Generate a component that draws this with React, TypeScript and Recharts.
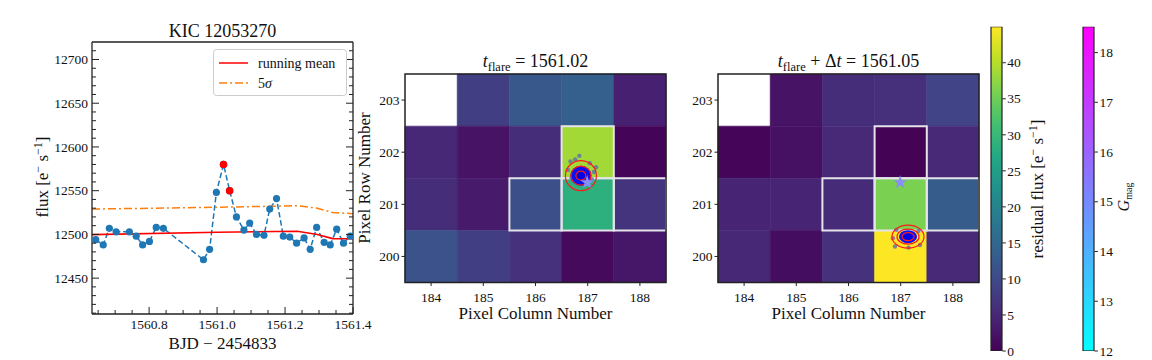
import React from "react";
import {
  ComposedChart,
  Line,
  Bar,
  XAxis,
  YAxis,
  ScatterChart,
  Scatter,
  ReferenceArea,
  Symbols,
} from "recharts";

const FONT = '"Liberation Serif", "DejaVu Serif", serif';
const INK = "#222222";
const TXT = "#111111";
const LC_BLUE = "#1f77b4";

// ---- light curve (BJD - 2454833, flux in e-/s) ----
const times = [
  1560.643, 1560.665, 1560.683, 1560.703, 1560.742, 1560.762, 1560.781, 1560.801, 1560.821, 1560.842,
  1560.96, 1560.978, 1560.998, 1561.019, 1561.037, 1561.057, 1561.079, 1561.096, 1561.116, 1561.138,
  1561.155, 1561.175, 1561.195, 1561.214, 1561.234, 1561.256, 1561.274, 1561.293, 1561.315, 1561.333,
  1561.352, 1561.372, 1561.392,
];
const flux = [
  12494, 12488, 12507, 12503, 12503, 12498, 12488, 12492, 12508, 12507,
  12471, 12483, 12548, 12580, 12550, 12520, 12505, 12513, 12500, 12499,
  12529, 12541, 12498, 12497, 12490, 12496, 12483, 12508, 12491, 12488,
  12506, 12490, 12498,
];
const flareTimes = [1561.019, 1561.037];
const flareFlux = [12580, 12550];
const meanTimes = [1560.632, 1561.0, 1561.236, 1561.295, 1561.34, 1561.4];
const meanFlux = [12499.8, 12502.5, 12503.6, 12500, 12495.2, 12495];
const sigmaFlux = [12529, 12531, 12532.8, 12530, 12525, 12523.7];

const lcXMajor = [1560.8, 1561.0, 1561.2, 1561.4];
const lcXMinor = [1560.65, 1560.7, 1560.75, 1560.85, 1560.9, 1560.95, 1561.05, 1561.1, 1561.15, 1561.25, 1561.3, 1561.35];
const lcYMajor = [12450, 12500, 12550, 12600, 12650, 12700];
const lcYMinor = [
  12410, 12420, 12430, 12440, 12460, 12470, 12480, 12490, 12510, 12520, 12530, 12540, 12560,
  12570, 12580, 12590, 12610, 12620, 12630, 12640, 12660, 12670, 12680, 12690, 12710,
];

// ---- pixel panels (residual flux, e-/s) ----
const pixelCols = [184, 185, 186, 187, 188];
const pixelRows = [203, 202, 201, 200];
const fluxAtFlare = [
  [null, 8.1, 12.2, 13.5, 4],
  [5, 2.3, 5.8, 38.7, 0.5],
  [5.8, 3.2, 10.8, 28.4, 6.8],
  [11.3, 8.1, 6.3, 1.1, 2.7],
];
const fluxAfterFlare = [
  [null, 2.3, 5.8, 6, 9],
  [0.7, 2, 5.2, 0.2, 5.2],
  [4.5, 4.5, 5.5, 36, 13],
  [5, 1.6, 6.3, 45, 5.2],
];
const apertureCols = [187, 186, 187, 188];
const apertureRows = [202, 201, 201, 201];
const starPos = [{ x: 186.99, y: 201.42 }];
const centroidFlare = [{ x: 186.87, y: 201.55 }];
const centroidAfter = [{ x: 187.14, y: 200.38 }];
const specklesFlare = [
  { x: 186.84, y: 201.93 }, { x: 187.16, y: 201.71 }, { x: 186.67, y: 201.82 },
  { x: 186.76, y: 201.86 }, { x: 187.04, y: 201.79 }, { x: 186.69, y: 201.5 },
  { x: 187.08, y: 201.48 }, { x: 186.62, y: 201.66 }, { x: 187.12, y: 201.62 },
];
const specklesAfter = [
  { x: 186.89, y: 200.19 }, { x: 187.37, y: 200.22 }, { x: 186.92, y: 200.51 },
  { x: 187.34, y: 200.49 }, { x: 187.15, y: 200.17 }, { x: 186.85, y: 200.35 },
];

const fluxMax = 45;
const fluxCbTicks = [0, 5, 10, 15, 20, 25, 30, 35, 40];
const gmagDomain = [12, 18.52];
const gmagTicks = [12, 13, 14, 15, 16, 17, 18];

const VIRIDIS = ["#440154", "#482475", "#414487", "#355f8d", "#2a788e", "#21918c", "#22a884", "#44bf70", "#7ad151", "#bddf26", "#fde725"];
const COOL = ["#00ffff", "#ff00ff"];

function hexToRgb(h: string) {
  const n = parseInt(h.slice(1), 16);
  return [(n >> 16) & 255, (n >> 8) & 255, n & 255];
}
function colorAt(stops: string[], t: number) {
  const c = Math.max(0, Math.min(1, t)) * (stops.length - 1);
  const i = Math.min(stops.length - 2, Math.floor(c));
  const f = c - i;
  const a = hexToRgb(stops[i]);
  const b = hexToRgb(stops[i + 1]);
  const m = a.map((v, k) => Math.round(v + (b[k] - v) * f));
  return `rgb(${m[0]},${m[1]},${m[2]})`;
}

const isMajor = (v: number, majors: number[]) => majors.some((m) => Math.abs(m - v) < 1e-6);

// inward ticks for the light curve box
function LcBottomTick({ x, y, payload }: any) {
  const major = isMajor(payload.value, lcXMajor);
  return (
    <g>
      <line x1={x} y1={y} x2={x} y2={y - (major ? 7 : 4)} stroke={INK} strokeWidth={1} />
      {major && (
        <text x={x} y={y + 14.5} textAnchor="middle" fontSize={13.5} fill={TXT}>
          {payload.value.toFixed(1)}
        </text>
      )}
    </g>
  );
}
function LcTopTick({ x, y, payload }: any) {
  const major = isMajor(payload.value, lcXMajor);
  return <line x1={x} y1={y} x2={x} y2={y + (major ? 7 : 4)} stroke={INK} strokeWidth={1} />;
}
function LcLeftTick({ x, y, payload }: any) {
  const major = isMajor(payload.value, lcYMajor);
  return (
    <g>
      <line x1={x} y1={y} x2={x + (major ? 7 : 4)} y2={y} stroke={INK} strokeWidth={1} />
      {major && (
        <text x={x - 4} y={y + 4.7} textAnchor="end" fontSize={13.5} fill={TXT}>
          {payload.value}
        </text>
      )}
    </g>
  );
}
function LcRightTick({ x, y, payload }: any) {
  const major = isMajor(payload.value, lcYMajor);
  return <line x1={x} y1={y} x2={x - (major ? 7 : 4)} y2={y} stroke={INK} strokeWidth={1} />;
}

// outward ticks for pixel panels and colorbars
function PixBottomTick({ x, y, payload }: any) {
  return (
    <g>
      <line x1={x} y1={y} x2={x} y2={y + 3.5} stroke={INK} strokeWidth={1} />
      <text x={x} y={y + 19} textAnchor="middle" fontSize={13.5} fill={TXT}>
        {payload.value}
      </text>
    </g>
  );
}
function PixLeftTick({ x, y, payload }: any) {
  return (
    <g>
      <line x1={x} y1={y} x2={x - 3.5} y2={y} stroke={INK} strokeWidth={1} />
      <text x={x - 5.5} y={y + 4.7} textAnchor="end" fontSize={13.5} fill={TXT}>
        {payload.value}
      </text>
    </g>
  );
}
function CbTick({ x, y, payload }: any) {
  return (
    <g>
      <line x1={x} y1={y} x2={x + 3.5} y2={y} stroke={INK} strokeWidth={1} />
      <text x={x + 5} y={y + 4.7} textAnchor="start" fontSize={13.5} fill={TXT}>
        {payload.value}
      </text>
    </g>
  );
}

function LightCurve() {
  const lcData = times.map((t, i) => ({ t, flux: flux[i] }));
  const flareData = flareTimes.map((t, i) => ({ t, flux: flareFlux[i] }));
  const envData = meanTimes.map((t, i) => ({ t, mean: meanFlux[i], sigma: sigmaFlux[i] }));
  const xDomain = [1560.632, 1561.4];
  const yDomain = [12409, 12720];
  const xTicks = [...lcXMajor, ...lcXMinor];
  const yTicks = [...lcYMajor, ...lcYMinor];
  const spine = { stroke: INK, strokeWidth: 1.3 };
  return (
    <div style={{ position: "absolute", left: 0, top: 0 }}>
      <ComposedChart width={400} height={360} margin={{ top: 41, right: 46, bottom: 45, left: 91 }}>
        <XAxis xAxisId="top" orientation="top" type="number" domain={xDomain} ticks={xTicks} interval={0}
          height={1} allowDataOverflow tickLine={false} tickSize={0} tickMargin={0} tick={<LcTopTick />}
          axisLine={spine} />
        <XAxis dataKey="t" type="number" domain={xDomain} ticks={xTicks} interval={0} height={1}
          allowDataOverflow tickLine={false} tickSize={0} tickMargin={0} tick={<LcBottomTick />}
          axisLine={spine} />
        <YAxis type="number" domain={yDomain} ticks={yTicks} interval={0} width={1} allowDataOverflow
          tickLine={false} tickSize={0} tickMargin={0} tick={<LcLeftTick />} axisLine={spine} />
        <YAxis yAxisId="right" orientation="right" type="number" domain={yDomain} ticks={yTicks} interval={0}
          width={1} allowDataOverflow tickLine={false} tickSize={0} tickMargin={0} tick={<LcRightTick />}
          axisLine={spine} />
        <Line data={lcData} dataKey="flux" type="linear" stroke={LC_BLUE} strokeWidth={1.5}
          strokeDasharray="5.5 2.8" dot={{ r: 3.6, fill: LC_BLUE, stroke: "none" }} isAnimationActive={false} />
        <Line data={envData} dataKey="mean" type="linear" stroke="#ff0000" strokeWidth={1.6} dot={false}
          isAnimationActive={false} />
        <Line data={envData} dataKey="sigma" type="linear" stroke="#ff7f0e" strokeWidth={1.5}
          strokeDasharray="8 3 2 3" dot={false} isAnimationActive={false} />
        <Line data={flareData} dataKey="flux" type="linear" stroke="none" strokeWidth={0}
          dot={{ r: 3.8, fill: "#ff0000", stroke: "none" }} isAnimationActive={false} />
      </ComposedChart>
    </div>
  );
}

function CentroidShape({ cx, cy, rings, core }: any) {
  return (
    <g>
      <ellipse cx={cx} cy={cy} rx={core[0]} ry={core[1]} fill="#0a10f2" />
      <ellipse cx={cx} cy={cy} rx={core[0] * 0.55} ry={core[1] * 0.55} fill="#0000e0" />
      {rings.map((r: number[], i: number) => (
        <ellipse key={i} cx={cx} cy={cy} rx={r[0]} ry={r[1]} fill="none" stroke="#ff1a1a" strokeWidth={1.2} />
      ))}
    </g>
  );
}

function PixelPanel({ boxLeft, values, centroid, speckles, rings, core }: any) {
  return (
    <div style={{ position: "absolute", left: boxLeft - 50, top: 0 }}>
      <ScatterChart width={321} height={360} margin={{ top: 74, right: 10, bottom: 76.5, left: 49 }}>
        <XAxis dataKey="x" type="number" domain={[183.5, 188.5]} ticks={pixelCols} interval={0} height={1}
          allowDataOverflow axisLine={false} tickLine={false} tickSize={0} tickMargin={0} tick={<PixBottomTick />} />
        <YAxis dataKey="y" type="number" domain={[199.5, 203.5]} ticks={pixelRows} interval={0} width={1}
          allowDataOverflow axisLine={false} tickLine={false} tickSize={0} tickMargin={0} tick={<PixLeftTick />} />
        {pixelRows.map((row, ri) =>
          pixelCols.map((col, ci) => {
            const v = values[ri][ci];
            if (v == null) return null;
            const c = colorAt(VIRIDIS, v / fluxMax);
            return (
              <ReferenceArea key={`c${row}-${col}`} x1={col - 0.5} x2={col + 0.5} y1={row - 0.5} y2={row + 0.5}
                fill={c} fillOpacity={1} stroke={c} strokeWidth={0.6} ifOverflow="visible" />
            );
          })
        )}
        {apertureCols.map((col, i) => (
          <ReferenceArea key={`a${i}`} x1={col - 0.5} x2={col + 0.5} y1={apertureRows[i] - 0.5}
            y2={apertureRows[i] + 0.5} fill="none" stroke="#e4e4ea" strokeWidth={2} ifOverflow="visible" />
        ))}
        <ReferenceArea x1={183.5} x2={188.5} y1={199.5} y2={203.5} fill="none" stroke={INK} strokeWidth={1.5}
          ifOverflow="visible" />
        <Scatter data={speckles} isAnimationActive={false}
          shape={(p: any) => <circle cx={p.cx} cy={p.cy} r={2.2} fill="#5a6fb0" fillOpacity={0.8} />} />
        <Scatter data={centroid} isAnimationActive={false}
          shape={(p: any) => <CentroidShape cx={p.cx} cy={p.cy} rings={rings} core={core} />} />
        <Scatter data={starPos} isAnimationActive={false}
          shape={(p: any) => <Symbols type="star" size={60} cx={p.cx} cy={p.cy} fill="#8a8cf8" />} />
      </ScatterChart>
    </div>
  );
}

function GradientRect({ x, y, width, height, id, stops }: any) {
  return (
    <g>
      <defs>
        <linearGradient id={id} x1="0" y1="1" x2="0" y2="0">
          {stops.map((s: string, i: number) => (
            <stop key={i} offset={i / (stops.length - 1)} stopColor={s} />
          ))}
        </linearGradient>
      </defs>
      <rect x={x} y={y} width={width} height={height} fill={`url(#${id})`} stroke={INK} strokeWidth={1.2} />
    </g>
  );
}

function ColorBar({ plotLeft, plotWidth, domain, ticks, stops, id }: any) {
  const w = 80;
  const data = [{ name: id, top: domain[1] }];
  return (
    <div style={{ position: "absolute", left: plotLeft - 6, top: 0 }}>
      <ComposedChart width={w} height={360} data={data} barCategoryGap={0} barGap={0}
        margin={{ top: 26.7, right: w - 6 - plotWidth - 1, bottom: 9, left: 6 }}>
        <XAxis dataKey="name" type="category" hide />
        <YAxis type="number" orientation="right" domain={domain} ticks={ticks} interval={0} width={1}
          allowDataOverflow axisLine={false} tickLine={false} tickSize={0} tickMargin={0} tick={<CbTick />} />
        <Bar dataKey="top" isAnimationActive={false}
          shape={(p: any) => <GradientRect x={p.x} y={p.y} width={p.width} height={p.height} id={id} stops={stops} />} />
      </ComposedChart>
    </div>
  );
}

function Overlay() {
  const sup = { fontSize: 12 };
  return (
    <svg width={1152} height={360} style={{ position: "absolute", left: 0, top: 0, pointerEvents: "none" }}
      fontFamily={FONT} fill={TXT}>
      <text x={222.5} y={36.7} textAnchor="middle" fontSize={18}>KIC 12053270</text>
      <text x={222.5} y={349} textAnchor="middle" fontSize={17}>BJD − 2454833</text>
      <text transform="translate(48,177) rotate(-90)" textAnchor="middle" fontSize={17}>
        flux [e<tspan dy={-6} {...sup}>−</tspan><tspan dy={6}> s</tspan>
        <tspan dy={-6} {...sup}>−1</tspan><tspan dy={6}>]</tspan>
      </text>
      <rect x={213.5} y={49.5} width={133} height={46} rx={3} fill="#ffffff" fillOpacity={0.85} stroke="#cccccc" />
      <line x1={219} y1={63} x2={248} y2={63} stroke="#ff0000" strokeWidth={1.5} />
      <text x={258} y={67.5} fontSize={14}>running mean</text>
      <line x1={219} y1={83} x2={248} y2={83} stroke="#ff7f0e" strokeWidth={1.5} strokeDasharray="8 3 2 3" />
      <text x={258} y={87.5} fontSize={14}>5<tspan fontStyle="italic">σ</tspan></text>

      <text transform="translate(370,178) rotate(-90)" textAnchor="middle" fontSize={17}>Pixel Row Number</text>
      <text x={535.5} y={66.7} textAnchor="middle" fontSize={18}>
        <tspan fontStyle="italic">t</tspan><tspan dy={4} fontSize={12.5}>flare</tspan><tspan dy={-4}> = 1561.02</tspan>
      </text>
      <text x={535.5} y={318.7} textAnchor="middle" fontSize={17}>Pixel Column Number</text>
      <text x={848.5} y={66.7} textAnchor="middle" fontSize={18}>
        <tspan fontStyle="italic">t</tspan><tspan dy={4} fontSize={12.5}>flare</tspan>
        <tspan dy={-4}> + Δ</tspan><tspan fontStyle="italic">t</tspan><tspan> = 1561.05</tspan>
      </text>
      <text x={848.5} y={318.7} textAnchor="middle" fontSize={17}>Pixel Column Number</text>

      <text transform="translate(1043,189) rotate(-90)" textAnchor="middle" fontSize={17}>
        residual flux [e<tspan dy={-6} {...sup}>−</tspan><tspan dy={6}> s</tspan>
        <tspan dy={-6} {...sup}>−1</tspan><tspan dy={6}>]</tspan>
      </text>
      <text transform="translate(1129,197) rotate(-90)" textAnchor="middle" fontSize={16}>
        <tspan fontStyle="italic">G</tspan><tspan dy={3} fontSize={10}>mag</tspan>
      </text>
    </svg>
  );
}

export default function App() {
  return (
    <div style={{ position: "absolute", left: 0, top: 0, width: 1152, height: 360, background: "#fff", fontFamily: FONT }}>
      <LightCurve />
      <PixelPanel boxLeft={405} values={fluxAtFlare} centroid={centroidFlare} speckles={specklesFlare}
        rings={[[15.5, 15], [10, 9.5], [5, 4.5]]} core={[10.5, 10]} />
      <PixelPanel boxLeft={718} values={fluxAfterFlare} centroid={centroidAfter} speckles={specklesAfter}
        rings={[[16, 11.5], [11, 7.5], [6, 4]]} core={[9, 6.5]} />
      <ColorBar plotLeft={991} plotWidth={11.3} domain={[0, fluxMax]} ticks={fluxCbTicks} stops={VIRIDIS} id="cbViridis" />
      <ColorBar plotLeft={1083.3} plotWidth={11.4} domain={gmagDomain} ticks={gmagTicks} stops={COOL} id="cbCool" />
      <Overlay />
    </div>
  );
}
